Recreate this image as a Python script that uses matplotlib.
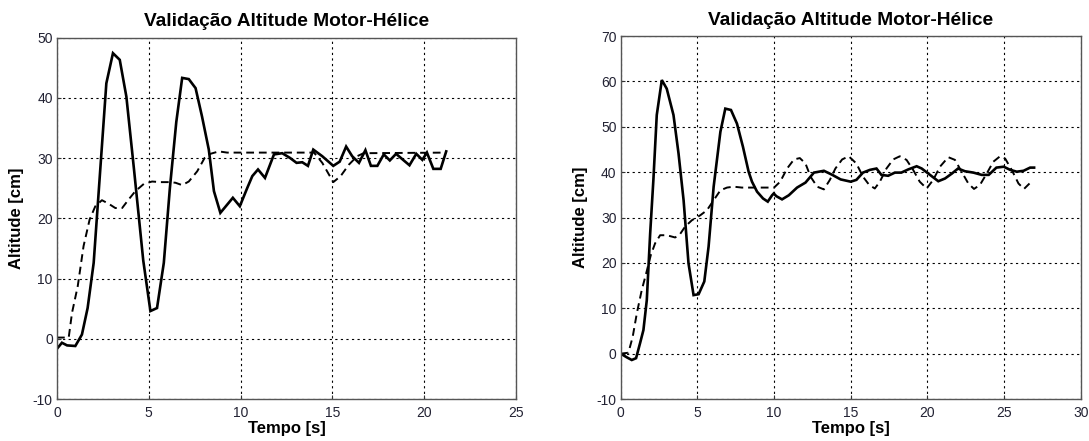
import numpy as np
import matplotlib.pyplot as plt

plt.rcParams['font.family'] = ['Liberation Sans', 'DejaVu Sans']
plt.rcParams['axes.unicode_minus'] = False

# --- left plot: measured (solid) and simulated (dashed) altitude ---
t_med1 = [0, 0.27, 0.55, 1.0, 1.36, 1.67, 2.0, 2.69, 3.05, 3.42, 3.78, 4.2, 4.7,
          5.09, 5.45, 5.82, 6.15, 6.5, 6.82, 7.18, 7.55, 7.9, 8.27, 8.55, 8.9,
          9.58, 9.96, 10.36, 10.64, 10.95, 11.33, 11.82, 12.27, 12.7, 13.05,
          13.36, 13.67, 13.96, 14.45, 15.05, 15.4, 15.75, 16.08, 16.45, 16.8,
          17.1, 17.45, 17.8, 18.13, 18.47, 18.85, 19.2, 19.57, 19.9, 20.15,
          20.5, 20.9, 21.2]
h_med1 = [-1.66, -0.66, -1.1, -1.2, 0.7, 5.1, 12.6, 42.4, 47.4, 46.3, 40.2, 28.0,
          13.0, 4.6, 5.1, 12.6, 25.0, 36.0, 43.3, 43.1, 41.6, 36.9, 31.4, 24.5,
          20.9, 23.4, 22.0, 25.0, 27.0, 28.1, 26.7, 30.6, 30.8, 30.0, 29.2,
          29.3, 28.7, 31.4, 30.3, 28.7, 29.4, 31.9, 30.3, 29.2, 31.3, 28.7,
          28.7, 30.6, 29.6, 30.7, 29.7, 28.8, 30.7, 29.7, 30.9, 28.2, 28.2, 31.1]

t_sim1 = [0, 0.64, 0.82, 1.13, 1.45, 1.78, 2.09, 2.45, 2.82, 3.18, 3.55, 3.9,
          4.27, 4.73, 5.18, 5.64, 6.09, 6.45, 6.82, 7.18, 7.64, 8.04, 8.36, 8.82,
          9.27, 14.0, 14.45, 15.05, 15.45, 15.9, 16.35, 16.7, 21.2]
h_sim1 = [0.2, 0.2, 4.3, 8.7, 15.4, 19.8, 22.0, 23.0, 22.4, 21.7, 21.7, 23.1,
          24.5, 25.7, 26.1, 26.0, 26.0, 25.9, 25.5, 26.1, 27.8, 30.0, 30.7, 31.1,
          30.9, 30.9, 29.2, 26.0, 27.0, 28.9, 30.3, 30.8, 30.9]

# --- right plot ---
t_med2 = [0, 0.39, 0.72, 1.0, 1.26, 1.48, 1.7, 1.92, 2.13, 2.35, 2.68, 3.0, 3.44,
          3.77, 4.1, 4.42, 4.75, 5.08, 5.45, 5.73, 6.06, 6.5, 6.82, 7.19, 7.58,
          7.97, 8.34, 8.56, 8.89, 9.28, 9.59, 9.87, 9.98, 10.15, 10.52, 10.96,
          11.5, 12.05, 12.6, 13.25, 13.8, 14.34, 15.0, 15.37, 15.8, 16.25,
          16.68, 17.0, 17.44, 17.88, 18.3, 18.75, 19.3, 19.63, 20.17, 20.71,
          21.15, 21.6, 22.0, 22.45, 23.0, 23.54, 24.0, 24.5, 24.98, 25.4,
          25.83, 26.27, 26.7, 26.96]
h_med2 = [0, -0.8, -1.4, -1.0, 2.3, 5.2, 11.8, 26.5, 38.3, 52.6, 60.3, 58.4,
          52.6, 44.1, 33.8, 19.9, 12.9, 13.1, 15.9, 23.6, 36.8, 48.9, 54.0,
          53.7, 50.7, 45.6, 40.1, 37.9, 35.7, 34.2, 33.5, 34.9, 35.3, 34.7,
          34.0, 34.9, 36.6, 37.7, 39.9, 40.3, 39.4, 38.4, 37.9, 38.3, 39.9,
          40.5, 40.8, 39.4, 39.2, 39.9, 39.9, 40.6, 41.3, 40.8, 39.4, 38.0,
          38.6, 39.7, 40.8, 40.2, 39.9, 39.4, 39.4, 41.0, 41.2, 40.5, 40.1,
          40.3, 41.0, 41.0]

t_sim2 = [0, 0.5, 0.78, 1.05, 1.37, 1.66, 1.96, 2.24, 2.57, 3.0, 3.55, 3.88,
          4.2, 4.64, 5.19, 5.62, 6.06, 6.5, 6.93, 7.36, 7.9, 10.0, 10.4, 10.85,
          11.3, 11.68, 12.05, 12.38, 12.81, 13.25, 13.64, 14.0, 14.44, 14.87,
          15.37, 15.8, 16.2, 16.57, 16.9, 17.33, 17.77, 18.2, 18.64, 19.07,
          19.5, 19.95, 20.38, 20.82, 21.36, 21.8, 22.23, 22.67, 23.04, 23.43,
          23.87, 24.3, 24.74, 25.07, 25.5, 25.94, 26.3, 26.66]
h_sim2 = [0, 0.2, 3.7, 8.9, 14.0, 17.7, 21.7, 24.3, 26.1, 26.1, 25.6, 26.4,
          28.0, 29.4, 30.5, 31.6, 33.8, 36.0, 36.6, 36.8, 36.6, 36.6, 37.9,
          40.8, 42.8, 43.1, 41.9, 39.0, 36.8, 36.2, 38.3, 40.8, 42.8, 43.5,
          41.9, 39.0, 37.2, 36.4, 37.9, 40.8, 42.8, 43.5, 42.7, 40.5, 37.9,
          36.4, 38.3, 41.2, 43.3, 42.7, 40.1, 37.5, 36.3, 37.2, 39.7, 42.3,
          43.5, 43.0, 40.5, 37.5, 36.3, 37.5]

titulo = 'Validação Altitude Motor-Hélice'

fig = plt.figure(figsize=(10.89, 4.41), dpi=100)
ax1 = fig.add_axes([0.0523, 0.0952, 0.4215, 0.8197])
ax2 = fig.add_axes([0.5700, 0.0952, 0.4224, 0.8231])

configs = [
    (ax1, t_med1, h_med1, t_sim1, h_sim1, (0, 25), (-10, 50), range(0, 26, 5), range(-10, 51, 10)),
    (ax2, t_med2, h_med2, t_sim2, h_sim2, (0, 30), (-10, 70), range(0, 31, 5), range(-10, 71, 10)),
]

for ax, tm, hm, ts, hs, xl, yl, xt, yt in configs:
    ax.plot(tm, hm, color='black', lw=1.9, solid_joinstyle='miter')
    ax.plot(ts, hs, color='black', lw=1.4, ls=(0, (4, 2.5)))
    ax.set_xlim(*xl)
    ax.set_ylim(*yl)
    ax.set_xticks(list(xt))
    ax.set_yticks(list(yt))
    ax.grid(True, color='black', ls=(0, (2, 3)), lw=0.8)
    ax.tick_params(direction='in', length=3, labelsize=10, colors='#333333',
                   labelcolor='#222233')
    ax.tick_params(axis='x', pad=5)
    ax.tick_params(axis='y', pad=3)
    for s in ax.spines.values():
        s.set_color('#555555')
        s.set_linewidth(1.0)
    ax.set_title(titulo, fontsize=13.8, fontweight='bold', pad=8)
    ax.set_xlabel('Tempo [s]', fontsize=12, fontweight='bold', labelpad=1)
    ax.set_ylabel('Altitude [cm]', fontsize=12, fontweight='bold', labelpad=6)

fig.savefig('out.png', dpi=100)
